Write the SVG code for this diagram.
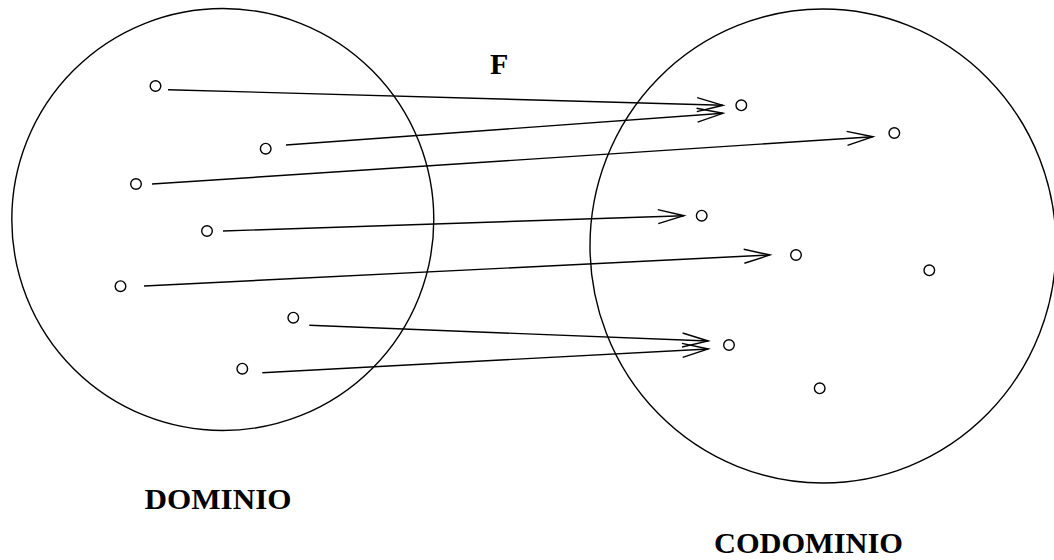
<svg xmlns="http://www.w3.org/2000/svg" width="1054" height="560" viewBox="0 0 1054 560">
<defs>
<marker id="arr" markerUnits="userSpaceOnUse" markerWidth="40" markerHeight="30" refX="0" refY="0" viewBox="-30 -15 40 30" orient="auto" overflow="visible">
<path d="M-26,-7 L0,0 L-26,7" fill="none" stroke="#000" stroke-width="1.4"/>
</marker>
</defs>
<style>
.set{fill:none;stroke:#000;stroke-width:1.4}
.pt{fill:#fff;stroke:#000;stroke-width:1.4}
.ln{fill:none;stroke:#000;stroke-width:1.4;marker-end:url(#arr)}
.lbl{font-family:"Liberation Serif","Times New Roman",serif;font-weight:bold;font-size:30px;fill:#000}
</style>
<rect width="1054" height="560" fill="#fff"/>
<g id="dominio">
<ellipse class="set" cx="222.8" cy="219.5" rx="211" ry="211"/>
<text class="lbl" x="144.5" y="509" textLength="147" lengthAdjust="spacingAndGlyphs">DOMINIO</text>
</g>
<g id="codominio">
<ellipse class="set" cx="823" cy="246" rx="233" ry="237"/>
<text class="lbl" x="714" y="553" textLength="189" lengthAdjust="spacingAndGlyphs">CODOMINIO</text>
</g>
<g id="label-F">
<text class="lbl" x="490" y="74">F</text>
</g>
<g id="connectors">
<line class="ln" x1="168" y1="89.7" x2="723" y2="105.3"/>
<line class="ln" x1="286" y1="145" x2="723" y2="113.3"/>
<line class="ln" x1="152" y1="184" x2="873" y2="136.7"/>
<line class="ln" x1="223" y1="231" x2="684" y2="215.7"/>
<line class="ln" x1="144" y1="286" x2="770" y2="255"/>
<line class="ln" x1="309.3" y1="325.3" x2="708.3" y2="341"/>
<line class="ln" x1="262.3" y1="372.7" x2="708.3" y2="349"/>
</g>
<g id="domain-points">
<circle id="d1" class="pt" cx="155.5" cy="86" r="5.3"/>
<circle id="d2" class="pt" cx="265.7" cy="148.7" r="5.3"/>
<circle id="d3" class="pt" cx="136" cy="184" r="5.3"/>
<circle id="d4" class="pt" cx="207" cy="231" r="5.3"/>
<circle id="d5" class="pt" cx="120.5" cy="286.2" r="5.3"/>
<circle id="d6" class="pt" cx="293.3" cy="317.7" r="5.3"/>
<circle id="d7" class="pt" cx="242.3" cy="368.7" r="5.3"/>
</g>
<g id="codomain-points">
<circle id="c1" class="pt" cx="741.3" cy="105.3" r="5.3"/>
<circle id="c2" class="pt" cx="894.3" cy="133" r="5.3"/>
<circle id="c3" class="pt" cx="701.7" cy="215.7" r="5.3"/>
<circle id="c4" class="pt" cx="796" cy="255" r="5.3"/>
<circle id="c5" class="pt" cx="929.3" cy="270.3" r="5.3"/>
<circle id="c6" class="pt" cx="729" cy="345" r="5.3"/>
<circle id="c7" class="pt" cx="819.7" cy="388.3" r="5.3"/>
</g>
</svg>
